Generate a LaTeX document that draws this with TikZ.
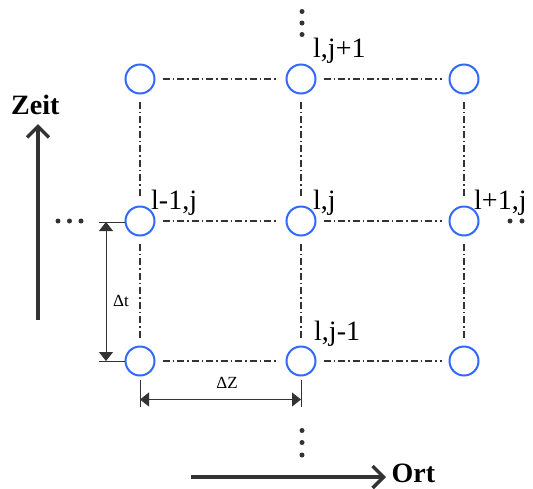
\documentclass[tikz,border=0pt]{standalone}
\usepackage{fontspec}
\setmainfont{Liberation Serif}
\usetikzlibrary{arrows.meta}
\definecolor{nodeblue}{RGB}{50,105,250}
\definecolor{ink}{RGB}{51,51,51}
\begin{document}
\begin{tikzpicture}[x=1pt,y=-1pt,
 gridpt/.style={circle,draw=nodeblue,line width=2pt,minimum size=29pt,inner sep=0pt},
 gridline/.style={ink,line width=1.2pt,dash pattern=on 7pt off 3pt on 1.5pt off 3pt,shorten <=7pt,shorten >=7pt},
 lbl/.style={anchor=base west,inner sep=0pt,font=\rmfamily\fontsize{28}{28}\selectfont},
 blob/.style={circle,fill=ink,minimum size=5pt,inner sep=0pt},
 bigarrow/.style={ink,line width=3.5pt,-{Straight Barb[length=11pt,width=22pt]}},
 dimline/.style={ink,line width=0.9pt},
 dimarrow/.style={dimline,{Triangle[length=9pt,width=14pt]}-{Triangle[length=9pt,width=14pt]}},
 dimlbl/.style={inner sep=0pt,font=\rmfamily\fontsize{17}{17}\selectfont},
 axlbl/.style={inner sep=0pt,anchor=base west,font=\rmfamily\fontsize{28}{28}\selectfont\bfseries}]
\useasboundingbox (0,0) rectangle (533,488);
% grid points
\node[gridpt] (a1) at (140,79) {};
\node[gridpt] (b1) at (301,79) {};
\node[gridpt] (c1) at (464,79) {};
\node[gridpt] (a2) at (140,221) {};
\node[gridpt] (b2) at (301,221) {};
\node[gridpt] (c2) at (464,221) {};
\node[gridpt] (a3) at (140,361) {};
\node[gridpt] (b3) at (301,361) {};
\node[gridpt] (c3) at (464,361) {};
% grid lines
\foreach \r in {1,2,3}{
  \draw[gridline] (a\r) -- (b\r);
  \draw[gridline] (b\r) -- (c\r);
}
\foreach \c in {a,b,c}{
  \draw[gridline] (\c1) -- (\c2);
  \draw[gridline] (\c2) -- (\c3);
}
% labels
\node[lbl] (lt) at (313,57.5) {l,j+1};
\node[lbl] (ll) at (151,209.5) {l-1,j};
\node[lbl] (lm) at (313,209.5) {l,j};
\node[lbl] (lr) at (474,209.5) {l+1,j};
\node[lbl] (lb) at (314,340.5) {l,j-1};
% ellipsis dots
\node[blob] (t1) at (302,11.5) {};
\node[blob] (t2) at (302,23) {};
\node[blob] (t3) at (302,34.5) {};
\node[blob] (d1) at (302,430.5) {};
\node[blob] (d2) at (302,442.5) {};
\node[blob] (d3) at (302,455) {};
\node[blob] (w1) at (58,221) {};
\node[blob] (w2) at (69.5,221) {};
\node[blob] (w3) at (81,221) {};
\node[blob] (e1) at (510,221) {};
\node[blob] (e2) at (522,221) {};
% axes
\coordinate (zs) at (38,320);
\coordinate (ze) at (38,124);
\draw[bigarrow] (zs) -- (ze);
\node[axlbl] (zeit) at (11,114.5) {Zeit};
\coordinate (os) at (191,477);
\coordinate (oe) at (386,477);
\draw[bigarrow] (os) -- (oe);
\node[axlbl] (ort) at (391.5,482.5) {Ort};
% dimension dt
\coordinate (x1a) at (99,222);
\coordinate (x1b) at (125,222);
\coordinate (x2a) at (99,361);
\coordinate (x2b) at (125,361);
\draw[dimline] (x1a) -- (x1b);
\draw[dimline] (x2a) -- (x2b);
\coordinate (dta) at (106,222);
\coordinate (dtb) at (106,361);
\draw[dimarrow] (dta) -- (dtb);
\node[dimlbl] (dt) at (121,301) {Δt};
% dimension dz
\coordinate (y1a) at (140,380);
\coordinate (y1b) at (140,407);
\coordinate (y2a) at (301,380);
\coordinate (y2b) at (301,407);
\draw[dimline] (y1a) -- (y1b);
\draw[dimline] (y2a) -- (y2b);
\coordinate (dza) at (140,399.5);
\coordinate (dzb) at (301,399.5);
\draw[dimarrow] (dza) -- (dzb);
\node[dimlbl] (dz) at (227,383) {ΔZ};
\end{tikzpicture}
\end{document}
